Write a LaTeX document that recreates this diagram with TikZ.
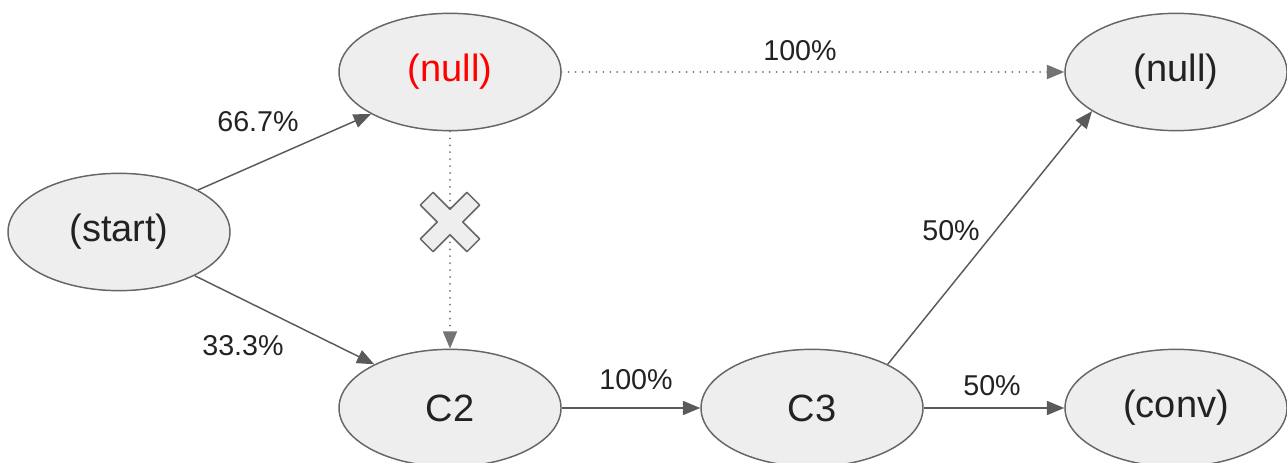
\documentclass[tikz,border=0pt]{standalone}
\usepackage{fontspec}
\setmainfont{Liberation Sans}
\usetikzlibrary{shapes.geometric,arrows.meta}
\definecolor{nodefill}{HTML}{EEEEEE}
\definecolor{nodeline}{HTML}{666666}
\definecolor{edgecol}{HTML}{5A5A5A}
\definecolor{txt}{HTML}{222222}
\tikzset{
  state/.style={ellipse, draw=nodeline, line width=1.1pt, fill=nodefill,
    minimum width=166.5pt, minimum height=88pt, inner sep=0pt,
    font=\fontsize{28.5}{30}\selectfont, text=txt},
  edge/.style={draw=edgecol, line width=1.1pt, -{Triangle[length=13pt,width=10.5pt]}},
  dotedge/.style={draw=edgecol!85, line width=1.5pt, line cap=round,
    dash pattern=on 0pt off 5.2pt, -{Triangle[length=13pt,width=10.5pt]}},
  lbl/.style={font=\fontsize{21.5}{23}\selectfont, text=txt, inner sep=0pt},
  crossmark/.style={draw=nodeline, line width=1.1pt, fill=nodefill, line join=round}
}
\begin{document}
\begin{tikzpicture}[x=0.75pt,y=-0.75pt]
\useasboundingbox (0,0) rectangle (1287,463);
\node[state] (start) at (119,232) {(start)};
\node[state, text=red] (n1) at (450,72) {(null)};
\node[state] (n2) at (1176,72) {(null)};
\node[state] (c2) at (450,408) {C2};
\node[state] (c3) at (812,408) {C3};
\node[state] (conv) at (1176,408) {(conv)};

\draw[edge] (start.28) -- (n1.208);
\draw[edge] (start.-30) -- (c2.150);
\draw[dotedge] (n1.east) -- (n2.west);
\draw[dotedge] (n1.south) -- (c2.north);
\draw[edge] (c2.east) -- (c3.west);
\draw[edge] (c3.30) -- (n2.205);
\draw[edge] (c3.east) -- (conv.west);

% cross mark
\begin{scope}[shift={(450,222)}, rotate=45]
  \path[crossmark] (-9,-33) -- (9,-33) -- (9,-9) -- (33,-9) -- (33,9) -- (9,9)
    -- (9,33) -- (-9,33) -- (-9,9) -- (-33,9) -- (-33,-9) -- (-9,-9) -- cycle;
\end{scope}

\node[lbl] (l1) at (258,122) {66.7\%};
\node[lbl] (l2) at (243,346) {33.3\%};
\node[lbl] (l3) at (800,51) {100\%};
\node[lbl] (l4) at (636,380) {100\%};
\node[lbl] (l5) at (951,231) {50\%};
\node[lbl] (l6) at (992,386) {50\%};
\end{tikzpicture}
\end{document}
